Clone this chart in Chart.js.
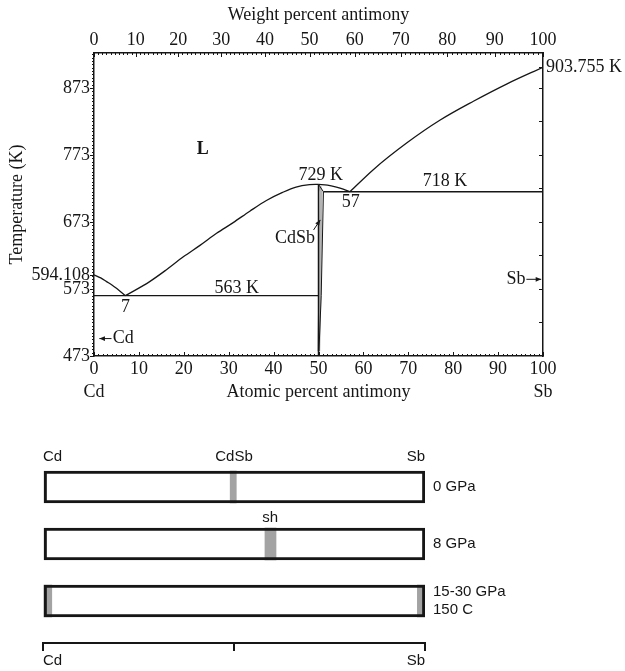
<!DOCTYPE html>
<html>
<head>
<meta charset="utf-8">
<title>Cd-Sb phase diagram</title>
<script src="https://cdn.jsdelivr.net/npm/chart.js@4.4.1/dist/chart.umd.min.js"></script>
<style>
  body { margin: 0; background: #fff; }
  #wrap { position: relative; width: 625px; height: 671px; }
  #phase { position: absolute; left: 0; top: 0; }
  #pressure { position: absolute; left: 0; top: 410px; }
</style>
</head>
<body>
<div id="wrap">
  <canvas id="phase" width="625" height="410"></canvas>
  <canvas id="pressure" width="625" height="261"></canvas>
</div>
<script>
// Cd-Sb diagram: x = atomic % Sb, y = temperature (K)
const cdLiqX = [0, 1.5, 2.8, 4, 5, 6, 7];
const cdLiqT = [594.108, 589.5, 584, 579, 574, 568.5, 563];
const cdSbLiqX = [7, 12.4, 16, 19.9, 23.6, 27.3, 31, 34.7, 38.4, 42, 45, 48, 50];
const cdSbLiqT = [563, 584, 601, 621, 638, 656, 672, 689, 705, 717, 725, 728.5, 729];
const dipX = [50, 52, 54, 55.5, 57];
const dipT = [729, 728, 725, 722, 718];
const sbLiqX = [57, 62.2, 69.7, 77.1, 84.5, 92, 100];
const sbLiqT = [718, 751, 791, 825, 853, 879, 903.755];
const eut1X = [0, 50];
const eut1T = [563, 563];
const eut2X = [51.1, 100];
const eut2T = [718, 718];
const compoundX = [50, 50];
const compoundT = [473, 729];
const edgeX = [50, 51.1, 50.6, 50.1];
const edgeT = [729, 718, 563, 480];
const sliverX = [50.3, 50.55, 50.3, 50.05];
const sliverT = [726, 718, 563, 480];

// axis ticks
const atomicTicks = [0, 10, 20, 30, 40, 50, 60, 70, 80, 90, 100];
const weightTicks = [0, 10, 20, 30, 40, 50, 60, 70, 80, 90, 100];
const tempTicks = [473, 573, 594.108, 673, 773, 873];
const rightTicks = [523, 573, 623, 673, 723, 773, 823, 873, 903.755];

// pressure schematic: Cd (0) to Sb (100)
const pressureRows = ['0 GPa', '8 GPa', ['15-30 GPa', '150 C']];
const sampleSpan = [[0, 100], [0, 100], [0, 100]];
const phaseA = [[49.0, 50.6], [58.1, 61.0], [0, 2.3]];
const phaseB = [null, null, [98.0, 100]];
const endTicks = [0, 50, 100];
const endNames = ['Cd', 'CdSb', 'Sb'];
const baseNames = ['Cd', '', 'Sb'];

const massCd = 112.41, massSb = 121.76;
const toAtomic = w => 100 * (w / massSb) / (w / massSb + (100 - w) / massCd);

const ink = '#161616';
const serif = 'Liberation Serif';
const sans = 'Liberation Sans';

function pts(xs, ys) { return xs.map((x, i) => ({x: x, y: ys[i]})); }

function curve(xs, ys, extra) {
  return Object.assign({
    data: pts(xs, ys), showLine: true, borderColor: ink, borderWidth: 1.3,
    pointRadius: 0, fill: false, tension: 0
  }, extra || {});
}

// text labels and arrows inside the diagram
const notes = [
  {text: 'L', x: 24.2, t: 781, bold: true},
  {text: '729 K', x: 50.5, t: 743},
  {text: '57', x: 57.2, t: 702},
  {text: '718 K', x: 78.2, t: 733.5},
  {text: '563 K', x: 31.8, t: 574.2},
  {text: '7', x: 7.0, t: 546},
  {text: 'CdSb', x: 49.2, t: 649, align: 'right'},
  {text: 'Cd', x: 4.2, t: 499, align: 'left'},
  {text: 'Sb', x: 96.1, t: 587.4, align: 'right'}
];
const pointers = [
  {from: [3.9, 499], to: [1.2, 499]},
  {from: [96.3, 587.4], to: [99.6, 587.4]},
  {from: [48.9, 661], to: [50.4, 676]}
];

function arrow(ctx, x1, y1, x2, y2) {
  const a = Math.atan2(y2 - y1, x2 - x1);
  ctx.beginPath();
  ctx.moveTo(x1, y1);
  ctx.lineTo(x2, y2);
  ctx.stroke();
  ctx.beginPath();
  ctx.moveTo(x2, y2);
  ctx.lineTo(x2 - 6 * Math.cos(a - 0.4), y2 - 6 * Math.sin(a - 0.4));
  ctx.lineTo(x2 - 6 * Math.cos(a + 0.4), y2 - 6 * Math.sin(a + 0.4));
  ctx.closePath();
  ctx.fill();
}

const diagramNotes = {
  id: 'diagramNotes',
  afterDatasetsDraw(chart) {
    const {ctx, scales: {x, y}} = chart;
    ctx.save();
    ctx.fillStyle = ink;
    ctx.strokeStyle = ink;
    ctx.lineWidth = 1;
    ctx.textBaseline = 'middle';
    notes.forEach(n => {
      ctx.font = (n.bold ? 'bold ' : '') + '18px "' + serif + '"';
      ctx.textAlign = n.align || 'center';
      ctx.fillText(n.text, x.getPixelForValue(n.x), y.getPixelForValue(n.t));
    });
    pointers.forEach(p => {
      arrow(ctx, x.getPixelForValue(p.from[0]), y.getPixelForValue(p.from[1]),
        x.getPixelForValue(p.to[0]), y.getPixelForValue(p.to[1]));
    });
    ctx.restore();
  }
};

// small tick marks along the frame
const frameTicks = {
  id: 'frameTicks',
  afterDraw(chart) {
    const {ctx, chartArea: a, scales} = chart;
    ctx.save();
    ctx.strokeStyle = ink;
    ctx.lineWidth = 1;
    ctx.beginPath();
    const hmark = (scale, vals, len, y0, dir) => vals.forEach(v => {
      const px = Math.round(scale.getPixelForValue(v)) + 0.5;
      ctx.moveTo(px, y0); ctx.lineTo(px, y0 + dir * len);
    });
    const vmark = (scale, vals, len, x0, dir) => vals.forEach(v => {
      const py = Math.round(scale.getPixelForValue(v)) + 0.5;
      ctx.moveTo(x0, py); ctx.lineTo(x0 + dir * len, py);
    });
    const ones = [], fives = [], wOnes = [];
    for (let i = 0; i <= 100; i++) { ones.push(i); wOnes.push(toAtomic(i)); }
    for (let t = 473; t <= 925; t += 5) fives.push(t);
    hmark(scales.x, ones, 2, a.bottom, -1);
    hmark(scales.x, atomicTicks, 4, a.bottom, -1);
    hmark(scales.x2, wOnes, 2, a.top, 1);
    hmark(scales.x2, weightTicks.map(toAtomic), 4, a.top, 1);
    vmark(scales.y, fives, 2, a.left, -1);
    vmark(scales.y, tempTicks, 4, a.left, -1);
    vmark(scales.y2, rightTicks, 4, a.right, -1);
    ctx.stroke();
    ctx.restore();
  }
};

const frameBorder = {display: true, color: ink, width: 1.5};
const noGrid = {display: false, drawTicks: false};
const tickFont = {family: serif, size: 18, lineHeight: '23px'};
const titleFont = {family: serif, size: 18};

new Chart(document.getElementById('phase'), {
  type: 'scatter',
  data: {
    datasets: [
      curve(cdLiqX, cdLiqT, {cubicInterpolationMode: 'monotone'}),
      curve(cdSbLiqX, cdSbLiqT, {cubicInterpolationMode: 'monotone'}),
      curve(dipX, dipT, {cubicInterpolationMode: 'monotone'}),
      curve(sbLiqX, sbLiqT, {cubicInterpolationMode: 'monotone'}),
      curve(eut1X, eut1T),
      curve(eut2X, eut2T),
      curve(compoundX, compoundT, {borderWidth: 1.5}),
      curve(edgeX, edgeT, {borderWidth: 1}),
      curve(sliverX, sliverT, {borderColor: '#b4b4b4', borderWidth: 3})
    ]
  },
  options: {
    responsive: false,
    animation: false,
    layout: {padding: 0},
    plugins: {legend: {display: false}, tooltip: {enabled: false}},
    scales: {
      x: {
        type: 'linear', position: 'bottom', min: 0, max: 100,
        afterBuildTicks: s => { s.ticks = atomicTicks.map(v => ({value: v})); },
        afterFit: s => { s.height = 54; },
        grid: noGrid, border: frameBorder,
        ticks: {
          autoSkip: false, maxRotation: 0, padding: 1.5, color: ink, font: tickFont,
          callback: v => v === 0 ? ['0', 'Cd'] : v === 100 ? ['100', 'Sb'] : String(v)
        },
        title: {display: true, text: 'Atomic percent antimony', color: ink, font: titleFont,
          padding: {top: 0, bottom: 7}}
      },
      x2: {
        type: 'linear', position: 'top', min: 0, max: 100,
        afterBuildTicks: s => { s.ticks = weightTicks.map(w => ({value: toAtomic(w)})); },
        afterFit: s => { s.height = 53; },
        grid: noGrid, border: frameBorder,
        ticks: {
          autoSkip: false, maxRotation: 0, padding: 1.5, color: ink, font: tickFont,
          callback: (v, i) => String(weightTicks[i])
        },
        title: {display: true, text: 'Weight percent antimony', color: ink, font: titleFont,
          padding: {top: 4, bottom: 0}}
      },
      y: {
        type: 'linear', position: 'left', min: 473, max: 925,
        afterBuildTicks: s => { s.ticks = tempTicks.map(v => ({value: v})); },
        afterFit: s => { s.width = 94; },
        grid: noGrid, border: frameBorder,
        ticks: {autoSkip: false, padding: 4, color: ink, font: {family: serif, size: 18},
          callback: v => String(v)},
        title: {display: true, text: 'Temperature (K)', color: ink, font: titleFont,
          padding: {top: 6, bottom: 0}}
      },
      y2: {
        type: 'linear', position: 'right', min: 473, max: 925,
        afterBuildTicks: s => { s.ticks = rightTicks.map(v => ({value: v})); },
        afterFit: s => { s.width = 82; },
        grid: noGrid, border: frameBorder,
        ticks: {autoSkip: false, padding: 3, color: ink, font: {family: serif, size: 18},
          callback: v => v === 903.755 ? '903.755 K' : ''}
      }
    }
  },
  plugins: [diagramNotes, frameTicks]
});

// phases found at each pressure
function rowBars(spans) {
  const out = [];
  spans.forEach((s, i) => { if (s) out.push({x: s, y: i}); });
  return out;
}

const rowNotes = {
  id: 'rowNotes',
  afterDatasetsDraw(chart) {
    const {ctx, scales: {x, y}} = chart;
    ctx.save();
    ctx.fillStyle = ink;
    ctx.font = '15px "' + sans + '"';
    ctx.textAlign = 'center';
    ctx.textBaseline = 'middle';
    ctx.fillText('sh', x.getPixelForValue(59.5), y.getPixelForValue(0.545));
    ctx.restore();
  }
};

const rowRange = {min: -0.298, max: 2.737, reverse: true, offset: false};

new Chart(document.getElementById('pressure'), {
  type: 'bar',
  data: {
    datasets: [
      {data: rowBars(sampleSpan), backgroundColor: 'rgba(0,0,0,0)', borderColor: ink,
        borderWidth: 2.5, borderSkipped: false},
      {data: rowBars(phaseA), backgroundColor: '#a3a3a3', borderWidth: 0},
      {data: rowBars(phaseB), backgroundColor: '#a3a3a3', borderWidth: 0}
    ]
  },
  options: {
    responsive: false,
    animation: false,
    indexAxis: 'y',
    grouped: false,
    barThickness: 32,
    layout: {padding: {left: 43}},
    plugins: {legend: {display: false}, tooltip: {enabled: false}},
    scales: {
      x: {
        type: 'linear', position: 'bottom', min: 0, max: 100,
        afterBuildTicks: s => { s.ticks = endTicks.map(v => ({value: v})); },
        afterFit: s => { s.height = 28; },
        grid: {display: true, drawOnChartArea: false, drawTicks: true, tickLength: 8,
          color: ink, lineWidth: 2},
        border: {display: true, color: ink, width: 2},
        ticks: {autoSkip: false, maxRotation: 0, align: 'inner', padding: 1, color: ink,
          font: {family: sans, size: 15},
          callback: (v, i) => baseNames[i]}
      },
      xt: {
        type: 'linear', position: 'top', min: 0, max: 100,
        afterBuildTicks: s => { s.ticks = endTicks.map(v => ({value: v})); },
        afterFit: s => { s.height = 60; },
        grid: noGrid, border: {display: false},
        ticks: {autoSkip: false, maxRotation: 0, align: 'inner', padding: 4, color: ink,
          font: {family: sans, size: 15},
          callback: (v, i) => endNames[i]}
      },
      y: Object.assign({type: 'linear', display: false, grid: {offset: false}}, rowRange),
      yR: Object.assign({
        type: 'linear', position: 'right',
        afterBuildTicks: s => { s.ticks = pressureRows.map((r, i) => ({value: i})); },
        afterFit: s => { s.width = 200; },
        grid: {display: false, drawTicks: false, offset: false}, border: {display: false},
        ticks: {autoSkip: false, padding: 8, color: ink,
          font: {family: sans, size: 15, lineHeight: '18px'},
          callback: (v, i) => pressureRows[i]}
      }, rowRange)
    }
  },
  plugins: [rowNotes]
});
</script>
</body>
</html>
